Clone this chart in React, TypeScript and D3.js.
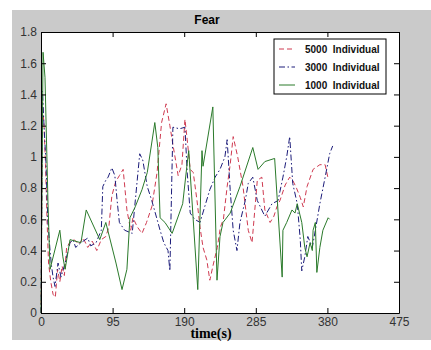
import React, { useRef, useEffect } from "react";
import * as d3 from "d3";

// [time (s), fear level]
const fear5000: [number, number][] = [
  [0, 0], [2, 1.35], [4, 1.2], [6, 0.95], [8, 0.6], [10, 0.32], [13, 0.2], [16, 0.12], [19, 0.1],
  [22, 0.28], [25, 0.2], [28, 0.3], [31, 0.24], [34, 0.42], [38, 0.45], [44, 0.47], [50, 0.44],
  [56, 0.48], [62, 0.42], [68, 0.46], [74, 0.4], [80, 0.47], [86, 0.49], [90, 0.55], [94, 0.75],
  [99, 0.84], [104, 0.88], [109, 0.92], [114, 0.66], [119, 0.53], [122, 0.61], [128, 0.55],
  [134, 0.51], [140, 0.58], [147, 0.68], [154, 0.9], [160, 1.22], [166, 1.34], [171, 1.2],
  [175, 1.08], [182, 0.88], [187, 0.95], [191, 1.24], [194, 1.11], [198, 0.92], [202, 0.9],
  [207, 0.72], [211, 0.55], [215, 0.42], [220, 0.34], [224, 0.21], [229, 0.32], [234, 0.42],
  [238, 0.55], [242, 0.6], [247, 0.81], [251, 0.95], [255, 1.13], [261, 1.0], [268, 0.81],
  [275, 0.53], [280, 0.45], [287, 0.85], [293, 0.87], [297, 0.66], [304, 0.58], [309, 0.62],
  [313, 0.68], [317, 0.72], [324, 0.82], [330, 0.87], [334, 0.85], [339, 0.8], [344, 0.74],
  [348, 0.68], [353, 0.81], [361, 0.92], [370, 0.95], [377, 0.95], [381, 0.86],
];

const fear3000: [number, number][] = [
  [0, 0], [2, 1.42], [4, 1.2], [6.6, 0.96], [9, 0.6], [12, 0.4], [14, 0.3], [16, 0.23],
  [18.6, 0.17], [22.6, 0.32], [26.5, 0.23], [32, 0.32], [38.5, 0.45], [42.5, 0.47], [46, 0.42],
  [53, 0.45], [62, 0.48], [66, 0.43], [73, 0.45], [80, 0.53], [82, 0.81], [86, 0.85], [89, 0.87],
  [94, 0.93], [98, 0.88], [101, 0.72], [104, 0.58], [111, 0.53], [121, 0.51], [131, 1.02],
  [135, 0.98], [141, 0.81], [147, 0.72], [154, 0.6], [158, 0.53], [163, 0.45], [168.5, 0.4],
  [171, 0.27], [175, 1.19], [184, 1.18], [191, 1.19], [194, 0.9], [198, 0.64], [204, 0.6],
  [211, 0.58], [224, 0.79], [231, 0.87], [237.5, 0.92], [244, 1.0], [247, 1.11], [251, 0.79],
  [255, 0.53], [260, 0.4], [264, 0.58], [271, 0.72], [275, 0.83], [281, 0.87], [287, 0.72],
  [297, 0.62], [306.5, 0.7], [314.5, 0.72], [321, 0.87], [326, 1.0], [330, 1.13], [334, 0.83],
  [340, 0.7], [344, 0.47], [346, 0.27], [350, 0.36], [354, 0.49], [360, 0.42], [364, 0.53],
  [370, 0.7], [377, 0.87], [383, 1.02], [387, 1.07],
];

const fear1000: [number, number][] = [
  [0, 0], [2.7, 1.67], [5.3, 1.51], [9.3, 0.7], [12, 0.28], [25, 0.53], [29, 0.36], [32, 0.28],
  [38.5, 0.47], [53, 0.45], [60, 0.66], [78, 0.47], [86, 0.58], [99.5, 0.32], [107.5, 0.15],
  [114, 0.28], [118, 0.61], [125, 0.68], [134, 0.79], [141, 0.9], [151, 1.22], [155, 1.06],
  [158, 0.61], [164.5, 0.58], [174, 0.51], [188, 0.7], [194, 0.96], [196, 1.04], [208, 0.15],
  [213.6, 1.04], [215, 0.94], [228, 1.32], [233.5, 0.21], [237.5, 0.49], [241.5, 0.58],
  [251, 0.64], [264, 0.81], [281, 1.06], [288, 0.92], [297, 0.97], [310, 0.99], [320, 0.23],
  [321, 0.53], [326, 0.58], [333, 0.66], [337, 0.64], [340, 0.7], [341, 0.68], [346, 0.58],
  [350, 0.42], [353, 0.36], [357, 0.45], [360, 0.4], [361, 0.53], [364, 0.58], [366, 0.26],
  [370, 0.42], [374, 0.53], [381, 0.61], [383, 0.6],
];

const seriesNames = ["5000  Individual", "3000  Individual", "1000  Individual"];
const xTicks = [0, 95, 190, 285, 380, 475];
const yTicks = [0, 0.2, 0.4, 0.6, 0.8, 1, 1.2, 1.4, 1.6, 1.8];

const W = 431;
const H = 350;
const plot = { left: 41, top: 32, right: 399, bottom: 313 };

export default function App() {
  const svgRef = useRef<SVGSVGElement>(null);

  useEffect(() => {
    const svg = d3.select(svgRef.current);
    svg.selectAll("*").remove();

    const x = d3.scaleLinear().domain([0, 475]).range([plot.left, plot.right]);
    const y = d3.scaleLinear().domain([0, 1.8]).range([plot.bottom, plot.top]);

    // figure background
    svg.append("rect").attr("x", 12).attr("y", 10).attr("width", W - 12).attr("height", 330)
      .attr("fill", "#cacaca");

    svg.append("rect")
      .attr("x", plot.left).attr("y", plot.top)
      .attr("width", plot.right - plot.left).attr("height", plot.bottom - plot.top)
      .attr("fill", "#fff");

    const series = [
      { data: fear5000, color: "#cf3a50", dash: "5,3" },
      { data: fear3000, color: "#1c1c7a", dash: "6,2.5,1.5,2.5" },
      { data: fear1000, color: "#2b7a2b", dash: null },
    ];

    const line = d3.line<[number, number]>().x(d => x(d[0])).y(d => y(d[1]));

    series.forEach(s => {
      svg.append("path")
        .attr("d", line(s.data))
        .attr("fill", "none")
        .attr("stroke", s.color)
        .attr("stroke-width", 1)
        .attr("stroke-dasharray", s.dash);
    });

    // axes (inward ticks on all four sides)
    const font = "'Liberation Sans', Arial, sans-serif";
    const bottom = svg.append("g").attr("transform", `translate(0,${plot.bottom})`)
      .call(d3.axisBottom(x).tickValues(xTicks).tickSizeInner(-5).tickSizeOuter(0).tickPadding(4));
    const top = svg.append("g").attr("transform", `translate(0,${plot.top})`)
      .call(d3.axisTop(x).tickValues(xTicks).tickSizeInner(-5).tickSizeOuter(0).tickFormat(() => ""));
    const left = svg.append("g").attr("transform", `translate(${plot.left},0)`)
      .call(d3.axisLeft(y).tickValues(yTicks).tickSizeInner(-5).tickSizeOuter(0).tickPadding(4)
        .tickFormat(d => String(+d)));
    const right = svg.append("g").attr("transform", `translate(${plot.right},0)`)
      .call(d3.axisRight(y).tickValues(yTicks).tickSizeInner(-5).tickSizeOuter(0).tickFormat(() => ""));

    [bottom, top, left, right].forEach(g => {
      g.select(".domain").attr("stroke", "#000");
      g.selectAll(".tick line").attr("stroke", "#000");
      g.selectAll("text").attr("font-family", font).attr("font-size", 12).attr("fill", "#333");
    });

    // legend
    const lg = svg.append("g");
    lg.append("rect").attr("x", 274).attr("y", 39).attr("width", 112).attr("height", 55)
      .attr("fill", "#fff").attr("stroke", "#000");
    series.forEach((s, i) => {
      const ly = 49 + i * 18;
      lg.append("line").attr("x1", 279).attr("x2", 295).attr("y1", ly).attr("y2", ly)
        .attr("stroke", s.color).attr("stroke-dasharray", s.dash);
      lg.append("text").attr("x", 305).attr("y", ly + 4)
        .attr("font-family", font).attr("font-size", 10).attr("font-weight", "bold")
        .attr("fill", "#111").style("white-space", "pre")
        .text(seriesNames[i]);
    });

    svg.append("text").attr("x", 207).attr("y", 24).attr("text-anchor", "middle")
      .attr("font-family", font).attr("font-size", 12).attr("font-weight", "bold")
      .text("Fear");

    svg.append("text").attr("x", 211).attr("y", 338).attr("text-anchor", "middle")
      .attr("font-family", "'Liberation Serif', 'Times New Roman', serif")
      .attr("font-size", 14).attr("font-weight", "bold")
      .text("time(s)");
  }, []);

  return (
    <svg ref={svgRef} width={W} height={H}
      style={{ position: "absolute", left: 0, top: 0, background: "#fff" }} />
  );
}
